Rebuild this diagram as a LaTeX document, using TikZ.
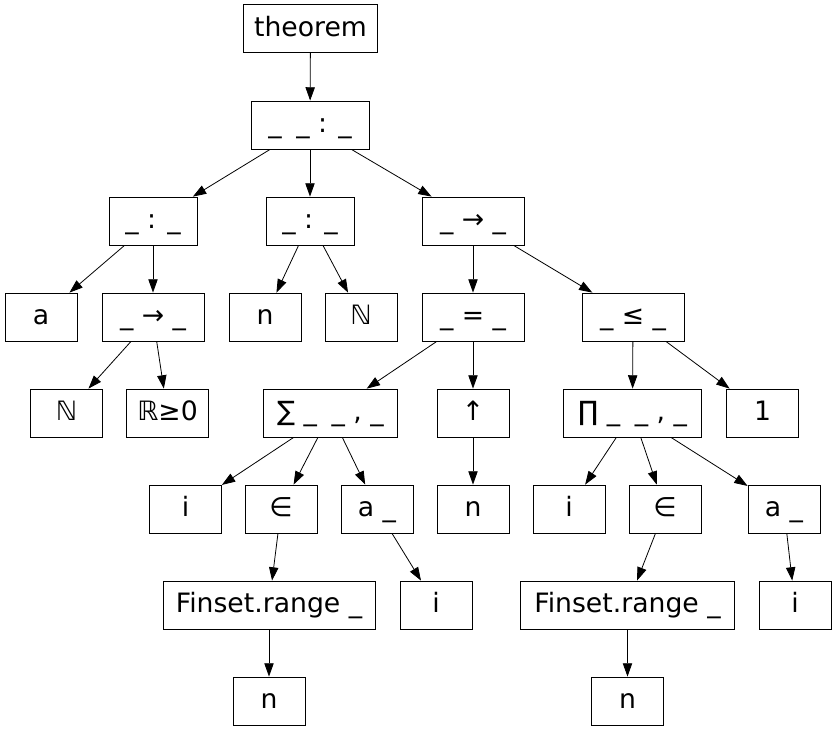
\documentclass[tikz,border=0pt]{standalone}
\usepackage{fontspec}
\setmainfont{DejaVu Sans}
\usepackage{tikz}
\usetikzlibrary{arrows.meta}
\newcommand{\holes}{\_\hspace{0.55em}\_}
\tikzset{%
  x=0.75pt, y=-0.75pt,
  term/.style={
    draw, rectangle, semithick,
    minimum width=54pt, minimum height=36pt,
    inner xsep=2pt,
    text height=15.5pt, text depth=4pt,
    font=\fontsize{20pt}{23pt}\selectfont},
  every edge/.style={
    draw,
    -{Triangle[length=10pt,width=7pt]},
    semithick} %
}

\begin{document}
\begin{tikzpicture}
    \useasboundingbox (0,0) rectangle (836,731);

    % top
    \node[term, minimum width=100pt] (thm) at (310.5,28.5) {theorem};
    \node[term, minimum width=88.5pt] (ty) at (310,125) {\holes{} : \_};
    % binders and type
    \node[term, minimum width=66pt] (ba) at (153,221) {\_ : \_};
    \node[term, minimum width=66pt] (bn) at (310,221) {\_ : \_};
    \node[term, minimum width=76.5pt] (imp) at (473,221) {\_ → \_};
    \node[term] (a) at (41,317) {a};
    \node[term, minimum width=76.5pt] (fun) at (153,317) {\_ → \_};
    \node[term] (n) at (265,317) {n};
    \node[term] (nat) at (361,317) {ℕ};
    \node[term, minimum width=76.5pt] (eq) at (473,317) {\_ = \_};
    \node[term, minimum width=76.5pt] (le) at (633,317) {\_ ≤ \_};
    \node[term] (natB) at (66.5,413) {ℕ};
    \node[term, minimum width=61pt] (real) at (167.5,413) {ℝ≥0};
    % sum side
    \node[term, minimum width=101pt] (sum) at (330.5,413) {∑ \holes{} , \_};
    \node[term] (cast) at (473,413) {↑};
    \node[term] (sI) at (185.5,509) {i};
    \node[term] (sMem) at (281,509) {∈};
    \node[term] (sA) at (377,509) {a \_};
    \node[term] (castN) at (473,509) {n};
    \node[term, minimum width=159pt] (sRange) at (269,605) {Finset.range \_};
    \node[term] (sAI) at (436,605) {i};
    \node[term] (sN) at (269,701) {n};
    % prod side
    \node[term, minimum width=103pt] (prod) at (632.5,413) {∏ \holes{} , \_};
    \node[term] (one) at (762.5,413) {1};
    \node[term] (pI) at (569,509) {i};
    \node[term] (pMem) at (665,509) {∈};
    \node[term] (pA) at (784,509) {a \_};
    \node[term, minimum width=160pt] (pRange) at (627.5,605) {Finset.range \_};
    \node[term] (pAI) at (795,605) {i};
    \node[term] (pN) at (627.5,701) {n};

    \draw
      (thm) edge (ty)
      (ty) edge (ba)
      (ty) edge (bn)
      (ty) edge (imp)
      (ba) edge (a)
      (ba) edge (fun)
      (fun) edge (natB)
      (fun) edge (real)
      (bn) edge (n)
      (bn) edge (nat)
      (imp) edge (eq)
      (imp) edge (le)
      (eq) edge (sum)
      (eq) edge (cast)
      (cast) edge (castN)
      (sum) edge (sI)
      (sum) edge (sMem)
      (sum) edge (sA)
      (sMem) edge (sRange)
      (sRange) edge (sN)
      (sA) edge (sAI)
      (le) edge (prod)
      (le) edge (one)
      (prod) edge (pI)
      (prod) edge (pMem)
      (prod) edge (pA)
      (pMem) edge (pRange)
      (pRange) edge (pN)
      (pA) edge (pAI)
    ;

\end{tikzpicture}
\end{document}
